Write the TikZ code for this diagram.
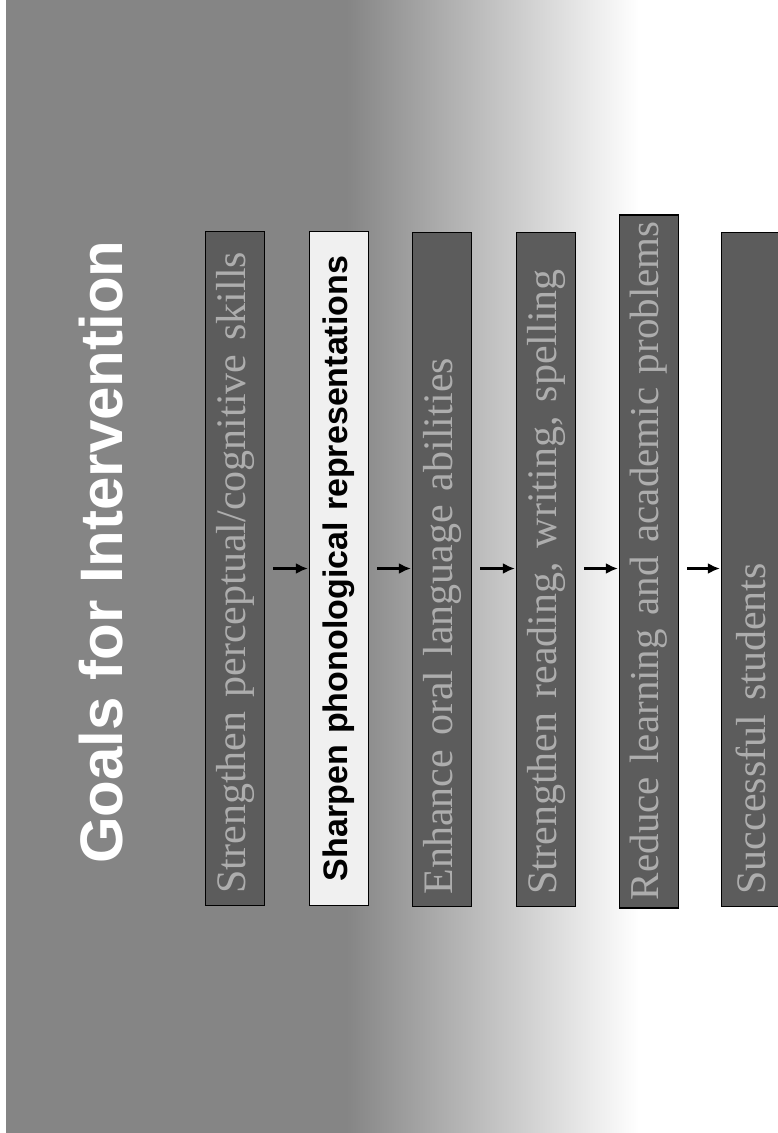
\documentclass[tikz,border=0pt]{standalone}
\usepackage{fontspec}
\setmainfont{Liberation Serif}
\newfontfamily\slidesans{Liberation Sans}
\usetikzlibrary{arrows.meta}

\definecolor{bgdark}{gray}{0.52}
\definecolor{boxgray}{gray}{0.36}
\definecolor{boxtext}{gray}{0.68}
\definecolor{boxlight}{gray}{0.94}
\pgfdeclarehorizontalshading{slidebg}{100bp}{color(0bp)=(bgdark); color(47bp)=(bgdark); color(66bp)=(white); color(100bp)=(white)}

\begin{document}
\begin{tikzpicture}[x=1pt, y=-1pt, >={Latex[length=12pt,width=11pt]},
	goalbox/.style={rotate=90, draw=black, line width=1.3pt, fill=boxgray, text=boxtext, font=\fontsize{42}{48}\selectfont, minimum height=59pt, inner xsep=12pt, inner ysep=0pt, text width=650pt, align=left},
	keybox/.style={goalbox, fill=boxlight, text=black, font=\slidesans\fontsize{34}{40}\selectfont\bfseries, align=center}]
	\useasboundingbox (0,0) rectangle (778,1133);
	\shade[shading=slidebg] (6,0) rectangle (778,1133);
	\node[rotate=90, anchor=base west, inner sep=0pt, text=white, font=\slidesans\fontsize{60}{70}\selectfont\bfseries] (title) at (122,864) {Goals for Intervention};
	\node[goalbox] (b1) at (235,568.5) {Strengthen perceptual/cognitive skills};
	\node[keybox] (b2) at (339,568.5) {Sharpen phonological representations};
	\node[goalbox] (b3) at (442,569.5) {Enhance oral language abilities};
	\node[goalbox] (b4) at (546,569.5) {Strengthen reading, writing, spelling};
	\node[goalbox, font=\fontsize{41}{47}\selectfont, inner xsep=8pt, text width=677pt] (b5) at (649,561.5) {\mbox{Reduce learning and academic problems}};
	\node[goalbox] (b6) at (751,569.5) {Successful students};
	\foreach \a/\b in {b1/b2,b2/b3,b3/b4,b4/b5,b5/b6} {\draw[->, line width=2.2pt, shorten <=8pt, shorten >=1pt] (\a.south |- b1.south) -- (\b.north |- b1.south);}
\end{tikzpicture}
\end{document}
